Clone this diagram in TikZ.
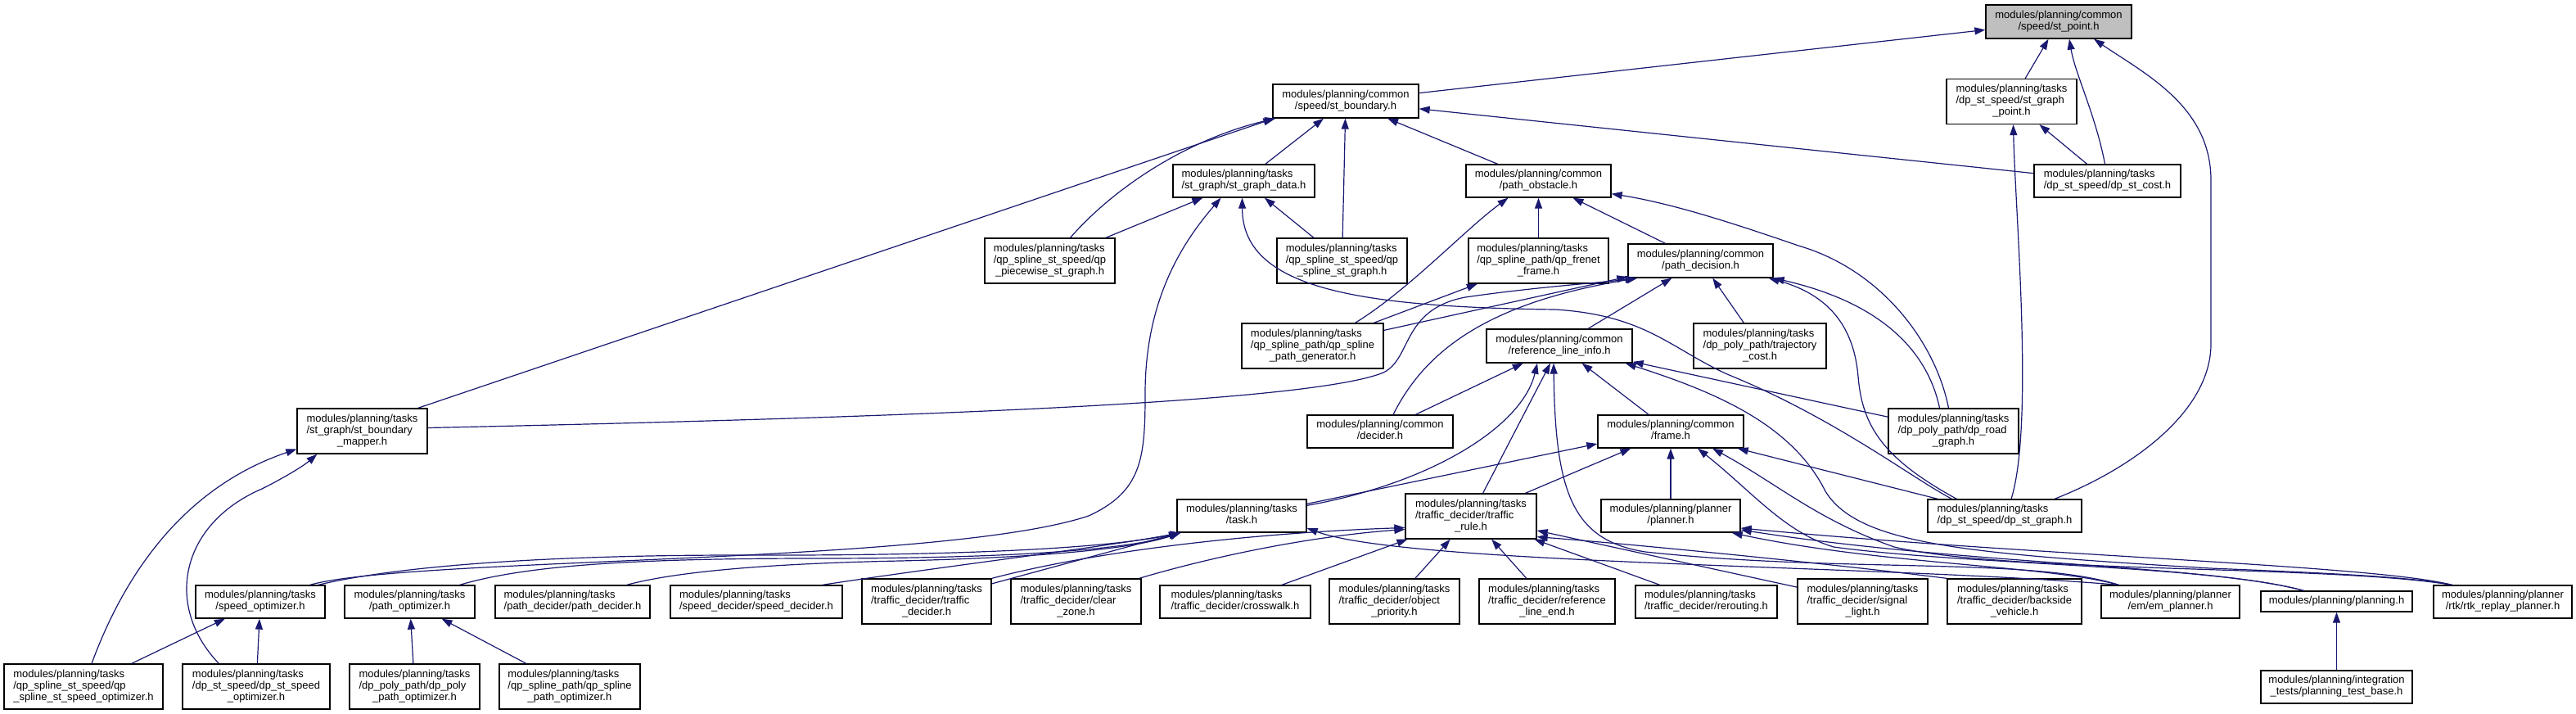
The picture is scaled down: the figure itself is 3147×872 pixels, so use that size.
\documentclass[tikz,border=0pt]{standalone}
\usepackage{fontspec}
\setmainfont{Liberation Sans}
\usetikzlibrary{arrows.meta,calc}
\definecolor{edgec}{HTML}{191970}
\definecolor{rootfill}{HTML}{BFBFBF}
\newcommand{\lblA}[1]{\begin{tabular}{@{}c@{}}#1\end{tabular}}
\newcommand{\lblB}[2]{\begin{tabular}{@{}l@{}}#1\\\multicolumn{1}{@{}c@{}}{#2}\end{tabular}}
\newcommand{\lblC}[3]{\begin{tabular}{@{}l@{}}#1\\#2\\\multicolumn{1}{@{}c@{}}{#3}\end{tabular}}
\begin{document}
\begin{tikzpicture}[x=1pt,y=-1pt,font=\fontsize{13}{14}\selectfont,
  box/.style={draw=black,line width=1.3pt,fill=white,inner sep=0pt,align=center},
  bb/.style={box,minimum height=40pt},
  bc/.style={box,minimum height=55pt},
  dep/.style={draw=edgec,line width=1.2pt,-{Triangle[length=13pt,width=9pt]}},
  rdep/.style={draw=edgec,line width=1.2pt,{Triangle[length=13pt,width=9pt]}-}]
\useasboundingbox (0,0) rectangle (3147,872);
% ---- nodes
\node[bb,minimum height=41pt,minimum width=178pt,fill=rootfill] (A) at (2515,26.5) {\lblB{modules/planning/common}{/speed/st\_point.h}};
\node[bc,minimum width=159pt] (SGP) at (2457.5,124) {\lblC{modules/planning/tasks}{/dp\_st\_speed/st\_graph}{\_point.h}};
\node[bb,minimum height=41pt,minimum width=178pt] (B) at (1644,123.5) {\lblB{modules/planning/common}{/speed/st\_boundary.h}};
\node[bb,minimum width=173pt] (C) at (1519.5,221) {\lblB{modules/planning/tasks}{/st\_graph/st\_graph\_data.h}};
\node[bb,minimum width=177pt] (D) at (1879.5,221) {\lblB{modules/planning/common}{/path\_obstacle.h}};
\node[bb,minimum width=179pt] (DSC) at (2574.5,221) {\lblB{modules/planning/tasks}{/dp\_st\_speed/dp\_st\_cost.h}};
\node[bc,minimum width=159pt] (QPW) at (1282.5,318.5) {\lblC{modules/planning/tasks}{/qp\_spline\_st\_speed/qp}{\_piecewise\_st\_graph.h}};
\node[bc,minimum width=159pt] (QSG) at (1639.5,318.5) {\lblC{modules/planning/tasks}{/qp\_spline\_st\_speed/qp}{\_spline\_st\_graph.h}};
\node[bc,minimum width=171pt] (QFF) at (1879.5,318.5) {\lblC{modules/planning/tasks}{/qp\_spline\_path/qp\_frenet}{\_frame.h}};
\node[bb,minimum height=41pt,minimum width=177pt] (E) at (2077.5,318.5) {\lblB{modules/planning/common}{/path\_decision.h}};
\node[bc,minimum width=173pt] (QPG) at (1603.5,422.5) {\lblC{modules/planning/tasks}{/qp\_spline\_path/qp\_spline}{\_path\_generator.h}};
\node[bb,minimum height=41pt,minimum width=178pt] (F) at (1905,422.5) {\lblB{modules/planning/common}{/reference\_line\_info.h}};
\node[bc,minimum width=162pt] (TC) at (2150,422.5) {\lblC{modules/planning/tasks}{/dp\_poly\_path/trajectory}{\_cost.h}};
\node[bc,minimum width=159pt] (SBM) at (442.5,526.5) {\lblC{modules/planning/tasks}{/st\_graph/st\_boundary}{\_mapper.h}};
\node[bb,minimum width=178pt] (DEC) at (1686,527) {\lblB{modules/planning/common}{/decider.h}};
\node[bb,minimum width=178pt] (FR) at (2041,527) {\lblB{modules/planning/common}{/frame.h}};
\node[bc,minimum width=159pt] (DRG) at (2386.5,526.5) {\lblC{modules/planning/tasks}{/dp\_poly\_path/dp\_road}{\_graph.h}};
\node[bb,minimum width=158pt] (T) at (1517,630) {\lblB{modules/planning/tasks}{/task.h}};
\node[bc,minimum width=160pt] (TR) at (1797,630.5) {\lblC{modules/planning/tasks}{/traffic\_decider/traffic}{\_rule.h}};
\node[bb,minimum width=170pt] (PL) at (2041,630) {\lblB{modules/planning/planner}{/planner.h}};
\node[bb,minimum width=188pt] (DSG) at (2449,630) {\lblB{modules/planning/tasks}{/dp\_st\_speed/dp\_st\_graph.h}};
\node[bb,minimum width=158pt] (SO) at (318,735) {\lblB{modules/planning/tasks}{/speed\_optimizer.h}};
\node[bb,minimum width=159pt] (PO) at (500.5,735) {\lblB{modules/planning/tasks}{/path\_optimizer.h}};
\node[bb,minimum width=189pt] (PD) at (699.5,735) {\lblB{modules/planning/tasks}{/path\_decider/path\_decider.h}};
\node[bb,minimum width=210pt] (SD) at (924,735) {\lblB{modules/planning/tasks}{/speed\_decider/speed\_decider.h}};
\node[bc,minimum width=158pt] (TD) at (1132,734.5) {\lblC{modules/planning/tasks}{/traffic\_decider/traffic}{\_decider.h}};
\node[bc,minimum width=159pt] (CZ) at (1314.5,734.5) {\lblC{modules/planning/tasks}{/traffic\_decider/clear}{\_zone.h}};
\node[bb,minimum width=184pt] (CW) at (1509,735) {\lblB{modules/planning/tasks}{/traffic\_decider/crosswalk.h}};
\node[bc,minimum width=159pt] (OP) at (1703.5,734.5) {\lblC{modules/planning/tasks}{/traffic\_decider/object}{\_priority.h}};
\node[bc,minimum width=166pt] (RLE) at (1890,734.5) {\lblC{modules/planning/tasks}{/traffic\_decider/reference}{\_line\_end.h}};
\node[bb,minimum width=173pt] (RR) at (2084.5,735) {\lblB{modules/planning/tasks}{/traffic\_decider/rerouting.h}};
\node[bc,minimum width=159pt] (SL) at (2275.5,734.5) {\lblC{modules/planning/tasks}{/traffic\_decider/signal}{\_light.h}};
\node[bc,minimum width=164pt] (BV) at (2461,734.5) {\lblC{modules/planning/tasks}{/traffic\_decider/backside}{\_vehicle.h}};
\node[bb,minimum width=169pt] (EM) at (2651.5,735) {\lblB{modules/planning/planner}{/em/em\_planner.h}};
\node[box,minimum height=25pt,minimum width=185pt] (PLN) at (2854.5,734.5) {\lblA{modules/planning/planning.h}};
\node[bb,minimum width=169pt] (RTK) at (3057.5,735) {\lblB{modules/planning/planner}{/rtk/rtk\_replay\_planner.h}};
\node[bc,minimum width=194pt] (QSSO) at (102,838.5) {\lblC{modules/planning/tasks}{/qp\_spline\_st\_speed/qp}{\_spline\_st\_speed\_optimizer.h}};
\node[bc,minimum width=180pt] (DSSO) at (313,838.5) {\lblC{modules/planning/tasks}{/dp\_st\_speed/dp\_st\_speed}{\_optimizer.h}};
\node[bc,minimum width=159pt] (DPPO) at (506.5,838.5) {\lblC{modules/planning/tasks}{/dp\_poly\_path/dp\_poly}{\_path\_optimizer.h}};
\node[bc,minimum width=172pt] (QSPO) at (696,838.5) {\lblC{modules/planning/tasks}{/qp\_spline\_path/qp\_spline}{\_path\_optimizer.h}};
\node[bb,minimum width=185pt] (PTB) at (2854.5,839) {\lblB{modules/planning/integration}{\_tests/planning\_test\_base.h}};
% ---- edges into st_point
\draw[dep] (B) -- (A);
\draw[dep] (SGP) -- (A);
\draw[dep] ($(DSC.north)+(-3,0)$) .. controls (2560,140) and (2535,90) .. ($(A.south)+(13,0)$);
\draw[dep] ($(DSG.north)+(61,0)$) .. controls (2610,570) and (2701,500) .. (2701,420) -- (2701,220) .. controls (2701,130) and (2620,90) .. ($(A.south)+(43,0)$);
% ---- st_boundary
\draw[dep] ($(SBM.north east)+(-12,0)$) -- ($(B.south west)+(2,0)$);
\draw[dep] ($(QPW.north)+(25,0)$) .. controls (1360,230) and (1450,170) .. ($(B.south west)+(4,0)$);
\draw[dep] (C) -- (B);
\draw[dep] (QSG) -- (B);
\draw[dep] (D) -- (B);
\draw[dep] (DSC) -- (B);
% ---- st_graph_point
\draw[dep] (DSC) -- (SGP);
\draw[dep] ($(DSG.north)+(8,0)$) .. controls (2485,520) and (2462,260) .. ($(SGP.south)+(2,0)$);
% ---- st_graph_data
\draw[dep] (QPW) -- (C);
\draw[dep] (QSG) -- (C);
\draw[dep] ($(SO.north east)+(-19,0)$) .. controls (500,680) and (1150,690) .. (1330,630) .. controls (1395,600) and (1399,560) .. (1399,480) .. controls (1399,360) and (1450,290) .. ($(C.south)+(-28,0)$);
\draw[dep] ($(DSG.north west)+(30,0)$) .. controls (2330,580) and (2240,510) .. (2110,457) .. controls (2040,425) and (2010,385) .. (1900,378) .. controls (1650,375) and (1518,350) .. ($(C.south)+(-2,0)$);
% ---- path_obstacle
\draw[dep] ($(QPG.north)+(52,0)$) .. controls (1720,355) and (1790,280) .. ($(D.south)+(-37,0)$);
\draw[dep] (QFF) -- (D);
\draw[dep] (E) -- (D);
\draw[dep] ($(DRG.north)+(-6,0)$) .. controls (2365,420) and (2300,330) .. (2197,300) .. controls (2110,270) and (2040,248) .. ($(D.south east)+(0,-5)$);
% ---- qp_frenet_frame
\draw[dep] (QPG) -- (QFF);
% ---- path_decision
\draw[dep] (QPG) -- (E);
\draw[dep] ($(SBM.east)+(0,-4)$) .. controls (1100,510) and (1600,492) .. (1690,455) .. controls (1725,438) and (1712,378) .. (1790,363) .. controls (1880,350) and (1960,345) .. ($(E.south west)+(10,0)$);
\draw[dep] ($(DEC.north)+(16,0)$) .. controls (1745,420) and (1830,368) .. ($(E.south west)+(12,0)$);
\draw[dep] (F) -- (E);
\draw[dep] (TC) -- (E);
\draw[dep] ($(DRG.north)+(-17,0)$) .. controls (2355,430) and (2300,370) .. (E.south east);
\draw[dep] ($(DSG.north west)+(36,0)$) .. controls (2300,560) and (2275,520) .. (2270,460) .. controls (2265,400) and (2235,360) .. ($(E.south east)+(-6,0)$);
% ---- reference_line_info
\draw[dep] (DEC) -- (F);
\draw[dep] (FR) -- (F);
\draw[dep] (TR) -- (F);
\draw[dep] (DRG) -- (F);
\draw[dep] ($(T.north east)+(0,8)$) .. controls (1750,590) and (1860,520) .. ($(F.south)+(-27,0)$);
% ---- frame
\draw[dep] ($(T.north east)+(0,6)$) -- ($(FR.west)+(0,15)$);
\draw[dep] (TR) -- (FR);
\draw[dep] (PL) -- (FR);
\draw[dep] (DSG) -- (FR);
% ---- st_boundary_mapper
\draw[dep] ($(QSSO.north)+(10,0)$) .. controls (160,680) and (240,590) .. ($(SBM.west)+(0,22)$);
\draw[dep] ($(DSSO.north west)+(45,0)$) .. controls (200,740) and (220,640) .. (320,597) .. controls (350,582) and (372,568) .. ($(SBM.south west)+(25,0)$);
% ---- task
\draw[dep] ($(SO.north east)+(-9,0)$) .. controls (500,688) and (700,678) .. (900,678) .. controls (1200,679) and (1360,668) .. ($(T.south west)+(5,0)$);
\draw[dep] ($(PO.north east)+(-19,0)$) .. controls (650,688) and (800,682) .. (1000,682) .. controls (1250,682) and (1380,670) .. ($(T.south west)+(5,0)$);
\draw[dep] ($(PD.north east)+(-29,0)$) .. controls (830,697) and (950,688) .. (1100,685) .. controls (1300,680) and (1390,668) .. ($(T.south west)+(5,0)$);
\draw[dep] ($(SD.north east)+(-25,0)$) .. controls (1150,692) and (1350,668) .. ($(T.south west)+(5,0)$);
\draw[dep] (TD) -- (T);
\draw[dep] ($(EM.north west)+(22,0)$) .. controls (2300,690) and (1720,690) .. ($(T.east)+(0,15)$);
% ---- traffic_rule
\draw[dep] (TD.north east) .. controls (1350,670) and (1550,650) .. ($(TR.west)+(0,14)$);
\draw[dep] ($(CZ.north east)+(-3,0)$) .. controls (1480,680) and (1600,655) .. ($(TR.west)+(0,16)$);
\draw[dep] (CW) -- (TR);
\draw[dep] (OP) -- (TR);
\draw[dep] (RLE) -- (TR);
\draw[dep] (RR) -- (TR);
\draw[dep] (SL) -- (TR);
\draw[dep] (BV.north west) .. controls (2250,690) and (2000,665) .. ($(TR.south east)+(0,-3)$);
% ---- planner
\draw[rdep] ($(PL.south east)+(-11,0)$) .. controls (2300,690) and (2500,690) .. ($(EM.north west)+(22,0)$);
\draw[rdep] ($(PL.east)+(0,17)$) .. controls (2400,690) and (2700,690) .. ($(PLN.north west)+(53,0)$);
\draw[rdep] ($(PL.east)+(0,15)$) .. controls (2500,680) and (2900,690) .. ($(RTK.north west)+(23,0)$);
% ---- far right bundle
\draw[rdep] ($(F.south)+(-7,0)$) .. controls (1900,600) and (1920,660) .. (2010,674) .. controls (2250,700) and (2480,680) .. ($(EM.north west)+(22,0)$);
\draw[rdep] ($(F.south east)+(-9,0)$) .. controls (2100,480) and (2190,520) .. (2230,600) .. controls (2270,665) and (2400,676) .. (2700,694) .. controls (2850,700) and (2950,705) .. ($(RTK.north west)+(23,0)$);
\draw[rdep] ($(FR.south)+(33,0)$) .. controls (2140,600) and (2180,650) .. (2240,668) .. controls (2400,690) and (2700,690) .. ($(PLN.north west)+(53,0)$);
\draw[rdep] ($(FR.south)+(51,0)$) .. controls (2170,590) and (2220,635) .. (2314,668) .. controls (2450,700) and (2850,690) .. ($(RTK.north west)+(23,0)$);
% ---- optimizers
\draw[dep] (QSSO) -- (SO);
\draw[dep] (DSSO) -- (SO);
\draw[dep] (DPPO) -- (PO);
\draw[dep] (QSPO) -- (PO);
\draw[dep] (PTB) -- (PLN);
\end{tikzpicture}
\end{document}
